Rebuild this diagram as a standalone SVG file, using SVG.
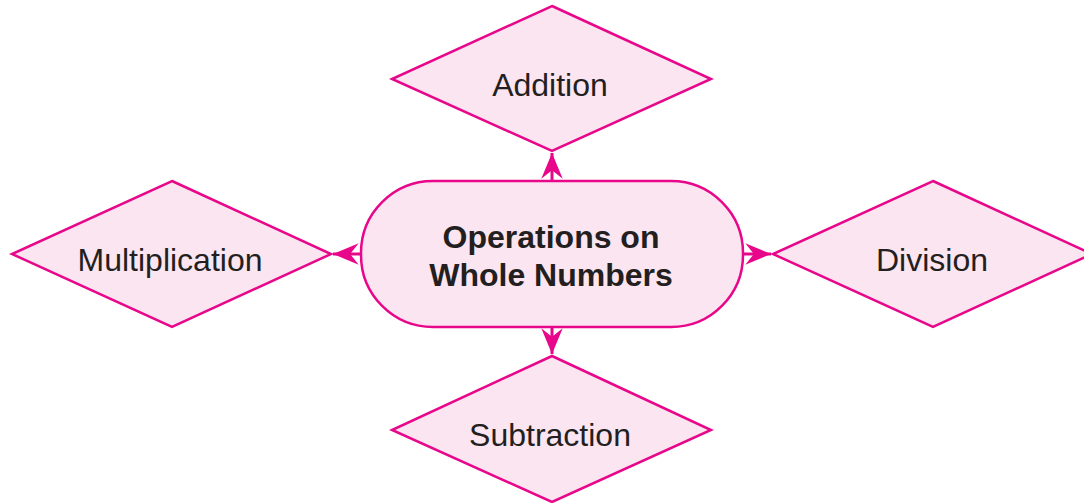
<svg xmlns="http://www.w3.org/2000/svg" width="1084" height="503" viewBox="0 0 1084 503">
<style>
.shape{fill:#FBE5F0;stroke:#E8068A;stroke-width:2.5;stroke-linejoin:miter}
.lbl{font-family:"Liberation Sans",Arial,sans-serif;font-size:32px;fill:#231F20;text-anchor:middle}
.bold{font-weight:bold;font-size:32px}
.conn{stroke:#E8068A;stroke-width:3;fill:none}
</style>
<defs>
<marker id="ah" markerUnits="userSpaceOnUse" markerWidth="30" markerHeight="30" viewBox="-26 -12 28 24" refX="0" refY="0" orient="auto">
<path d="M0,0 L-24,-10 L-16,0 L-24,10 Z" fill="#E8068A"/>
</marker>
</defs>
<rect width="1084" height="503" fill="#FFFFFF"/>
<g id="connectors">
<line class="conn" x1="552" y1="181" x2="552" y2="153" marker-end="url(#ah)"/>
<line class="conn" x1="552" y1="327" x2="552" y2="354" marker-end="url(#ah)"/>
<line class="conn" x1="361" y1="254" x2="333" y2="254" marker-end="url(#ah)"/>
<line class="conn" x1="743" y1="254" x2="771" y2="254" marker-end="url(#ah)"/>
</g>
<g id="center">
<rect class="shape" x="361" y="181" width="382" height="146" rx="72" ry="72"/>
<text class="lbl bold" x="551" y="248">Operations on</text>
<text class="lbl bold" x="551" y="286">Whole Numbers</text>
</g>
<g id="addition">
<polygon class="shape" points="552,6 711,79 552,151 392,79"/>
<text class="lbl" x="550" y="96">Addition</text>
</g>
<g id="multiplication">
<polygon class="shape" points="172,181 331,254 172,327 12,254"/>
<text class="lbl" x="170" y="271">Multiplication</text>
</g>
<g id="division">
<polygon class="shape" points="933,181 1092,254 933,327 773,254"/>
<text class="lbl" x="932" y="271">Division</text>
</g>
<g id="subtraction">
<polygon class="shape" points="552,356 711,430 552,502 392,430"/>
<text class="lbl" x="550" y="446">Subtraction</text>
</g>
</svg>
